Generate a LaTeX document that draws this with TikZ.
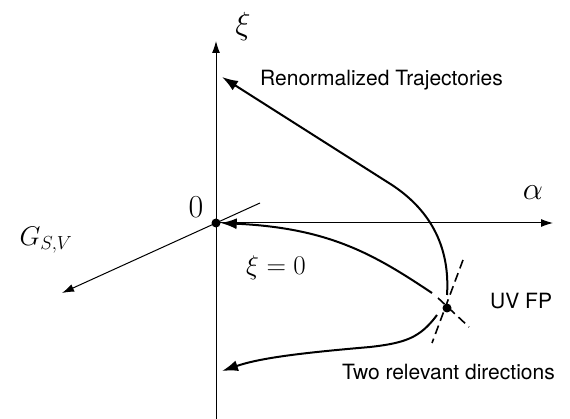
\RequirePackage{fix-cm}
\documentclass[tikz,border=0pt]{standalone}
\usepackage{fontspec}
\setsansfont{TeX Gyre Heros}
\usetikzlibrary{arrows.meta}
\tikzset{
  axis/.style={line width=1pt,-{Latex[length=12pt,width=8pt]}},
  traj/.style={line width=2pt,-{Latex[length=16pt,width=11pt]}},
  dirline/.style={line width=1.6pt,dash pattern=on 9pt off 5pt},
  dotnode/.style={circle,fill=black,inner sep=0pt,minimum size=9pt},
  mathlbl/.style={inner sep=0pt,font=\fontsize{27}{32}\selectfont},
  biglbl/.style={inner sep=0pt,font=\fontsize{32}{36}\selectfont},
  txtlbl/.style={inner sep=0pt,font=\sffamily\fontsize{21}{25}\selectfont}
}
\begin{document}
\begin{tikzpicture}[x=1pt,y=-1pt]
\useasboundingbox (0,0) rectangle (570,419);
% coordinates
\coordinate (vb) at (216,419);
\coordinate (vt) at (216,41);
\coordinate (ae) at (553,223);
\coordinate (gs) at (260,203);
\coordinate (ge) at (62,293);
\node[dotnode] (O) at (216,223) {};
\node[dotnode] (FP) at (447,308) {};
% axes
\draw[axis] (vb) -- (vt);
\draw[axis] (O.center) -- (ae);
\draw[axis] (gs) -- (ge);
% trajectories
\coordinate (t1s) at (447,295);
\coordinate (t1e) at (222,77);
\draw[traj] (t1s) .. controls (450,250) and (433,212) .. (392,185) -- (t1e);
\coordinate (t2s) at (432,293);
\draw[traj] (t2s) .. controls (375,255) and (330,228) .. (O.east);
\coordinate (t3s) at (437,315);
\coordinate (t3e) at (222,371);
\draw[traj] (t3s) .. controls (420,338) and (405,343) .. (370,347) .. controls (300,353) and (260,358) .. (t3e);
% relevant directions
\coordinate (d1a) at (463,260);
\coordinate (d1b) at (432,343);
\coordinate (d2a) at (438,298);
\coordinate (d2b) at (469,327);
\draw[dirline] (d1a) -- (d1b);
\draw[dirline] (d2a) -- (d2b);
% labels
\node[biglbl] (xi) at (243,27) {$\xi$};
\node[biglbl] (zero) at (196,207) {$0$};
\node[biglbl] (al) at (533,193) {$\alpha$};
\node[mathlbl] (G) at (46,240) {$G_{S,V}$};
\node[mathlbl] (xz) at (276,268) {$\xi=0$};
\node[txtlbl,anchor=base west] (rt) at (260,86) {Renormalized Trajectories};
\node[txtlbl,anchor=base west] (uv) at (490,309) {UV FP};
\node[txtlbl,anchor=base west] (two) at (342,379) {Two relevant directions};
\end{tikzpicture}
\end{document}
